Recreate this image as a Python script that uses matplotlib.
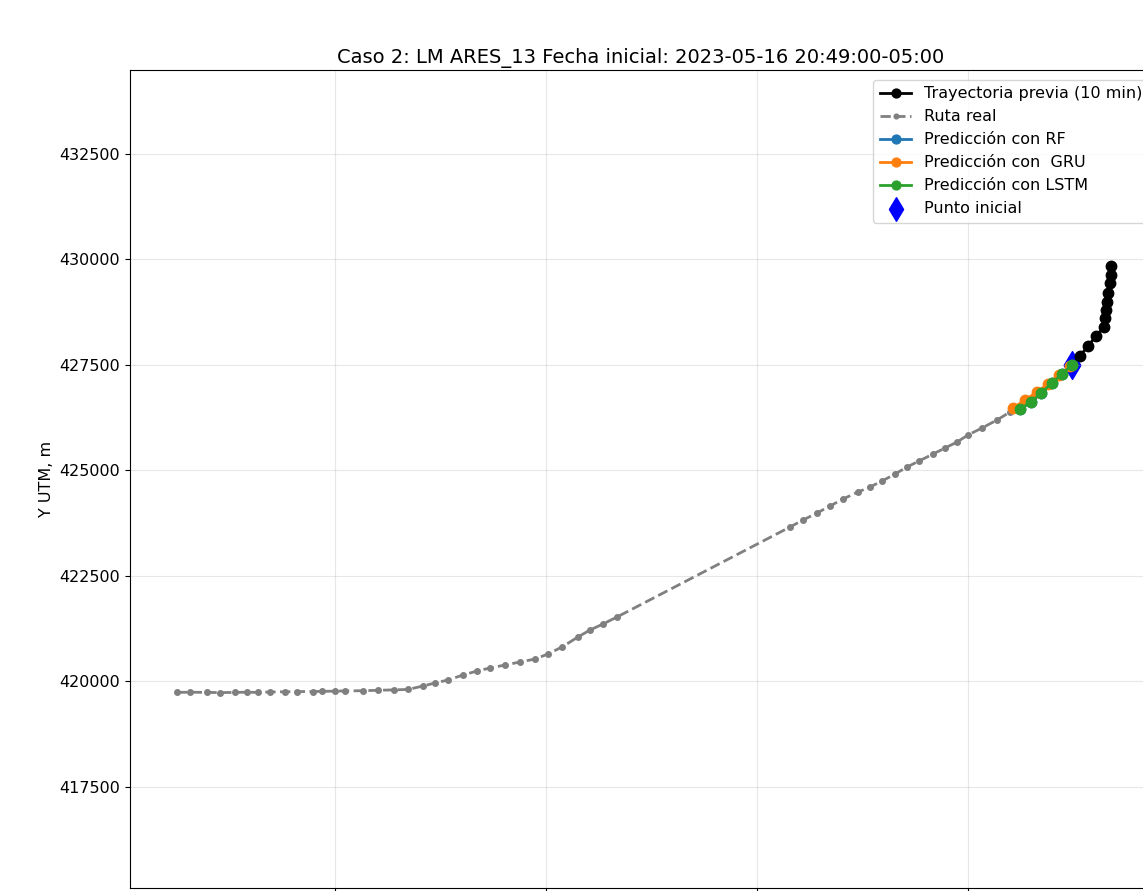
import matplotlib
matplotlib.use("Agg")
import matplotlib.pyplot as plt

# Observed route (UTM, m)
ruta_x = [456256, 456564, 456967, 457275, 457630, 457915, 458175, 458460, 458815,
          459100, 459479, 459692, 460000, 460237, 460664, 461019, 461398, 461730,
          462085, 462370, 462678, 463033, 463365, 463673, 464028, 464384, 464739,
          465047, 465379, 465758, 466043, 466351, 466683, 470782, 471090, 471422,
          471730, 472038, 472394, 472678, 472962, 473270, 473555, 473839, 474171,
          474455, 474740, 475000, 475332, 475687, 475995, 476280, 476540, 476777,
          477014, 477251, 477465]
ruta_y = [419730, 419735, 419730, 419725, 419730, 419735, 419730, 419740, 419745,
          419750, 419750, 419755, 419760, 419765, 419770, 419780, 419790, 419800,
          419882, 419953, 420024, 420142, 420237, 420308, 420379, 420450, 420521,
          420640, 420806, 421043, 421209, 421351, 421517, 423649, 423815, 423981,
          424147, 424313, 424479, 424597, 424739, 424905, 425071, 425213, 425379,
          425521, 425663, 425830, 425996, 426185, 426374, 426541, 426707, 426896,
          427109, 427299, 427488]

# Previous 10 minutes of trajectory
previa_x = [478389, 478389, 478365, 478318, 478294, 478270, 478247, 478223, 478033,
            477844, 477654, 477465]
previa_y = [429834, 429621, 429431, 429194, 428981, 428792, 428602, 428389, 428175,
            427938, 427702, 427488]

# Model predictions
rf_x = [477465, 477230, 476990, 476732, 476495, 476235]
rf_y = [427488, 427272, 427060, 426822, 426610, 426444]
gru_x = [477417, 477157, 476896, 476635, 476351, 476067]
gru_y = [427465, 427251, 427038, 426848, 426659, 426469]
lstm_x = [477465, 477228, 476991, 476730, 476493, 476232]
lstm_y = [427488, 427275, 427062, 426825, 426611, 426446]

inicio_x = [477465]
inicio_y = [427488]

y_ticks = [417500, 420000, 422500, 425000, 427500, 430000, 432500]
x_ticks = [460000, 465000, 470000, 475000]

fs = 11.5
fig = plt.figure(figsize=(11.43, 8.91), dpi=100)
ax = fig.add_axes([130 / 1143, 3 / 891, (1152 - 130) / 1143, (888 - 70) / 891])

ax.plot(previa_x, previa_y, "o-", color="black", lw=2, ms=7.5,
        label="Trayectoria previa (10 min)")
ax.plot(ruta_x, ruta_y, ".--", color="gray", lw=2, ms=8, label="Ruta real")
ax.plot(rf_x, rf_y, "o-", color="C0", lw=2, ms=7.5, label="Predicción con RF")
ax.plot(gru_x, gru_y, "o-", color="C1", lw=2, ms=7.5, label="Predicción con  GRU")
ax.plot(lstm_x, lstm_y, "o-", color="C2", lw=2, ms=7.5, label="Predicción con LSTM")
ax.scatter(inicio_x, inicio_y, marker="d", s=200, color="blue", label="Punto inicial")

ax.set_xlim(455142, 479360)
ax.set_ylim(415095, 434479)
ax.set_xticks(x_ticks)
ax.set_xticklabels([])
ax.set_yticks(y_ticks)
ax.tick_params(labelsize=fs)
ax.grid(True, alpha=0.3)
ax.set_ylabel("Y UTM, m", fontsize=fs)
ax.set_title("Caso 2: LM ARES_13 Fecha inicial: 2023-05-16 20:49:00-05:00",
             fontsize=14, pad=5)
ax.legend(loc="upper right", bbox_to_anchor=(1 + 5 / 1022, 1 - 2 / 818),
          fontsize=fs, markerscale=0.85)

fig.savefig("out.png", dpi=100)
